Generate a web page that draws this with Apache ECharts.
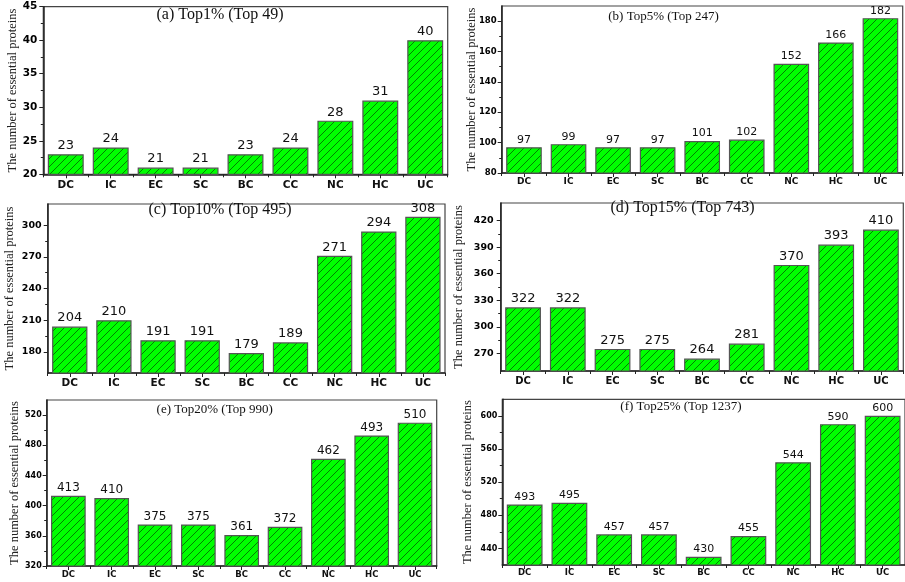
<!DOCTYPE html>
<html><head><meta charset="utf-8">
<script src="https://cdn.jsdelivr.net/npm/echarts@6/dist/echarts.min.js"></script>
<style>html,body{margin:0;padding:0;background:#fff}#c{width:905px;height:582px}</style>
</head><body><div id="c"></div>
<script>
// ---- data ----
const categories = ['DC','IC','EC','SC','BC','CC','NC','HC','UC'];
const top1Values  = [23, 24, 21, 21, 23, 24, 28, 31, 40];
const top5Values  = [97, 99, 97, 97, 101, 102, 152, 166, 182];
const top10Values = [204, 210, 191, 191, 179, 189, 271, 294, 308];
const top15Values = [322, 322, 275, 275, 264, 281, 370, 393, 410];
const top20Values = [413, 410, 375, 375, 361, 372, 462, 493, 510];
const top25Values = [493, 495, 457, 457, 430, 455, 544, 590, 600];
const panelTitles = ['(a) Top1% (Top 49)','(b) Top5% (Top 247)','(c) Top10% (Top 495)','(d) Top15% (Top 743)','(e) Top20% (Top 990)','(f) Top25% (Top 1237)'];
const top1Ticks  = [20, 25, 30, 35, 40, 45];
const top5Ticks  = [80, 100, 120, 140, 160, 180];
const top10Ticks = [180, 210, 240, 270, 300];
const top15Ticks = [270, 300, 330, 360, 390, 420];
const top20Ticks = [320, 360, 400, 440, 480, 520];
const top25Ticks = [440, 480, 520, 560, 600];
const top1Range  = [20, 45];
const top5Range  = [80, 190];
const top10Range = [160, 320];
const top15Range = [250, 440];
const top20Range = [320, 540];
const top25Range = [420, 620];
const yName = 'The number of essential proteins';

const panelValues = [top1Values, top5Values, top10Values, top15Values, top20Values, top25Values];
const panelTicks = [top1Ticks, top5Ticks, top10Ticks, top15Ticks, top20Ticks, top25Ticks];
const panelRanges = [top1Range, top5Range, top10Range, top15Range, top20Range, top25Range];

// ---- layout / style ----
const layouts = [
  {l:43.3, t:6.7, r:447.7, b:174.3, gap:24, tx:220, ty:14.3, ts:16, vs:13, xs:10.5, ys:10.5, xm:5, ym:6},
  {l:501.7, t:6, r:902.7, b:173, gap:23, tx:663.5, ty:16.2, ts:13, vs:11, xs:9, ys:8.5, xm:4, ym:5},
  {l:47.7, t:204, r:445, b:373, gap:31, tx:220, ty:209.7, ts:16, vs:13, xs:10.5, ys:9.5, xm:5, ym:6},
  {l:500.7, t:203, r:903.3, b:371, gap:35, tx:682.5, ty:208, ts:16, vs:13, xs:10, ys:9.5, xm:5, ym:7},
  {l:46.7, t:400, r:436.7, b:566, gap:25, tx:214.7, ty:409.7, ts:13, vs:12, xs:8.5, ys:8, xm:4, ym:5},
  {l:502.3, t:399.3, r:907, b:565, gap:28.5, tx:681, ty:406.7, ts:13, vs:11, xs:8.5, ys:8, xm:3.5, ym:5}
];

function hatch(){
  const c = document.createElement('canvas'); c.width = 8; c.height = 8;
  const g = c.getContext('2d');
  g.fillStyle = '#00ff00'; g.fillRect(0,0,8,8);
  g.strokeStyle = 'rgba(0,40,0,0.65)'; g.lineWidth = 0.9;
  g.beginPath();
  g.moveTo(0,8); g.lineTo(8,0);
  g.moveTo(-1,1); g.lineTo(1,-1);
  g.moveTo(7,9); g.lineTo(9,7);
  g.stroke();
  return c;
}
const pattern = {image: hatch(), repeat: 'repeat'};

const grids = [], xAxes = [], yAxes = [], series = [], graphics = [];
const dark = '#222';
panelValues.forEach((vals, i) => {
  const L = layouts[i];
  const [ymin, ymax] = panelRanges[i];
  const ticks = panelTicks[i];
  const tmin = ticks[0], tmax = ticks[ticks.length-1], step = ticks[1]-ticks[0];
  const h = L.b - L.t, w = L.r - L.l;
  const ppu = h / (ymax - ymin);

  // main grid
  const gMain = grids.length;
  grids.push({left:L.l, top:L.t, width:w, height:h, show:true, borderColor:'#444', borderWidth:1.2, backgroundColor:'transparent'});
  const xMain = xAxes.length;
  xAxes.push({gridIndex:gMain, type:'category', data:categories,
    axisLine:{lineStyle:{color:dark, width:1.5}},
    axisTick:{show:true, alignWithLabel:true, length:4, lineStyle:{color:dark}},
    axisLabel:{fontFamily:'DejaVu Sans', fontWeight:'bold', fontSize:L.xs, color:'#111', margin:L.xm}
  });
  const yMain = yAxes.length;
  yAxes.push({gridIndex:gMain, type:'value', min:ymin, max:ymax,
    axisLine:{show:true, lineStyle:{color:dark, width:1.5}},
    axisTick:{show:false}, axisLabel:{show:false}, splitLine:{show:false},
    name:yName, nameLocation:'middle', nameGap:L.gap,
    nameTextStyle:{fontFamily:'Liberation Serif', fontSize:12.5, color:'#222'}
  });
  series.push({type:'bar', xAxisIndex:xMain, yAxisIndex:yMain, data:vals, barWidth:'80%',
    itemStyle:{color:pattern, borderColor:'#555', borderWidth:1.2},
    label:{show:true, position:'top', distance:2, fontFamily:'DejaVu Sans', fontSize:L.vs, color:'#111'},
    silent:true
  });

  // boundary ticks grid (same as main)
  const gB = grids.length;
  grids.push({left:L.l, top:L.t, width:w, height:h});
  xAxes.push({gridIndex:gB, type:'category', data:categories,
    axisLine:{show:false}, axisTick:{show:true, alignWithLabel:false, length:3, lineStyle:{color:dark}},
    axisLabel:{show:false}});
  yAxes.push({gridIndex:gB, type:'value', min:ymin, max:ymax, show:false});

  // y labels grid aligned to tick range
  const gL = grids.length;
  const topL = L.t + (ymax - tmax) * ppu;
  const botL = L.b - (tmin - ymin) * ppu;
  grids.push({left:L.l, top:topL, width:w, height:botL - topL});
  xAxes.push({gridIndex:gL, type:'value', show:false, min:0, max:1});
  yAxes.push({gridIndex:gL, type:'value', min:tmin, max:tmax, interval:step,
    axisLine:{show:false}, splitLine:{show:false},
    axisTick:{show:true, length:4, lineStyle:{color:dark, width:1}},
    minorTick:{show:true, splitNumber:2, length:2.5, lineStyle:{color:dark, width:1}},
    axisLabel:{fontFamily:'DejaVu Sans', fontWeight:'bold', fontSize:L.ys, color:'#000', margin:L.ym}
  });

  graphics.push({type:'text', x:L.tx, y:L.ty, z:10,
    style:{text:panelTitles[i], fill:'#111', font:'normal ' + L.ts + 'px "Liberation Serif"', textAlign:'center', textVerticalAlign:'middle'}});
});

const chart = echarts.init(document.getElementById('c'), null, {renderer:'canvas'});
chart.setOption({
  animation:false,
  backgroundColor:'#fff',
  grid:grids, xAxis:xAxes, yAxis:yAxes, series:series, graphic:graphics
});
</script></body></html>
